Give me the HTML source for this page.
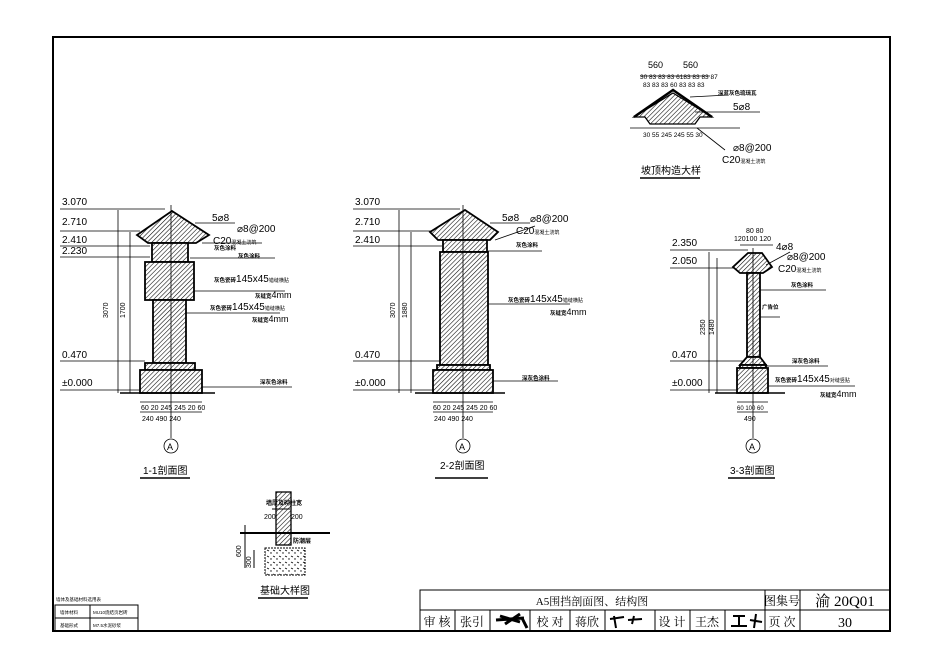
<!DOCTYPE html>
<html><head><meta charset="utf-8"><style>
html,body{margin:0;padding:0;background:#fff}
svg{display:block}
text{font-family:"Liberation Sans","Noto Sans CJK SC",sans-serif;fill:#000}
.s{font-family:"Liberation Serif","Noto Serif CJK SC",serif}
</style></head><body>
<svg width="945" height="665" viewBox="0 0 945 665" xmlns="http://www.w3.org/2000/svg">
<defs>
<pattern id="h" width="3.2" height="3.2" patternUnits="userSpaceOnUse" patternTransform="rotate(45)">
<rect width="3.2" height="3.2" fill="#fff"/><line x1="0" y1="0" x2="0" y2="3.2" stroke="#000" stroke-width="1.1"/></pattern>
<pattern id="d" width="6" height="6" patternUnits="userSpaceOnUse">
<rect width="6" height="6" fill="#fff"/><circle cx="1" cy="1" r="0.7" fill="#000"/><path d="M3 4 l2 1" stroke="#000" stroke-width="0.7"/></pattern>
</defs>
<rect width="945" height="665" fill="#fff"/>
<rect x="53" y="37" width="837" height="594" fill="none" stroke="#000" stroke-width="2"/>
<g stroke="#000" fill="none" stroke-width="1">
<rect x="420" y="590" width="470" height="41"/>
<line x1="420" y1="610" x2="890" y2="610"/>
<line x1="765" y1="590" x2="765" y2="631"/><line x1="800" y1="590" x2="800" y2="631"/>
<line x1="455" y1="610" x2="455" y2="631"/><line x1="490" y1="610" x2="490" y2="631"/><line x1="530" y1="610" x2="530" y2="631"/>
<line x1="570" y1="610" x2="570" y2="631"/><line x1="605" y1="610" x2="605" y2="631"/><line x1="655" y1="610" x2="655" y2="631"/>
<line x1="690" y1="610" x2="690" y2="631"/><line x1="725" y1="610" x2="725" y2="631"/>
</g>
<g class="s" font-size="12">
<text x="592" y="605" text-anchor="middle" class="s" font-size="11">A5围挡剖面图、结构图</text>
<text x="782" y="605" text-anchor="middle" class="s">图集号</text>
<text x="845" y="606" text-anchor="middle" class="s" font-size="15">渝 20Q01</text>
<text x="437" y="626" text-anchor="middle" class="s">审 核</text>
<text x="472" y="626" text-anchor="middle" class="s">张引</text>
<text x="550" y="626" text-anchor="middle" class="s">校 对</text>
<text x="587" y="626" text-anchor="middle" class="s">蒋欣</text>
<text x="672" y="626" text-anchor="middle" class="s">设 计</text>
<text x="707" y="626" text-anchor="middle" class="s">王杰</text>
<text x="782" y="626" text-anchor="middle" class="s">页 次</text>
<text x="845" y="627" text-anchor="middle" class="s" font-size="14">30</text>
</g>
<path d="M496 620 L524 618 M500 616 L520 622 M505 624 L520 614 M522 618 L527 628" stroke="#000" stroke-width="3" fill="none"/>
<path d="M614 616 L616 628 M610 619 L624 617 M628 620 L642 619 M634 616 L632 624" stroke="#000" stroke-width="2" fill="none"/>
<path d="M733 616 L745 616 M739 616 L739 626 M731 626 L747 626 M750 620 L762 622 M756 614 L754 628" stroke="#000" stroke-width="2" fill="none"/>
<g stroke="#000" fill="none" stroke-width="1"><rect x="55" y="605" width="83" height="26"/><line x1="55" y1="618" x2="138" y2="618"/><line x1="90" y1="605" x2="90" y2="631"/></g>
<g font-size="4.5"><text x="56" y="601">墙体及基础材料选用表</text><text x="60" y="614">墙体材料</text><text x="93" y="614">MU10烧结页岩砖</text><text x="60" y="627">基础形式</text><text x="93" y="627">M7.5水泥砂浆</text></g>

<!-- SECTION 1-1 -->
<g stroke="#000" stroke-width="1.8" fill="url(#h)">
<path d="M172 211 L209 235 L196 243 L148 243 L137 235 Z"/>
<rect x="152" y="243" width="36" height="19"/>
<rect x="145" y="262" width="49" height="38"/>
<rect x="153" y="300" width="33" height="63"/>
<rect x="145" y="363" width="50" height="7"/>
<rect x="140" y="370" width="62" height="23"/>
</g>
<g stroke="#000" stroke-width="0.8" fill="none">
<line x1="120" y1="393" x2="215" y2="393" stroke-width="1.5"/>
<line x1="171" y1="205" x2="171" y2="438"/>
<line x1="118" y1="210" x2="118" y2="393"/><line x1="130" y1="232" x2="130" y2="393"/>
<line x1="140" y1="402" x2="202" y2="402"/><line x1="140" y1="412" x2="202" y2="412"/>
<line x1="195" y1="223" x2="235" y2="223"/><line x1="202" y1="243" x2="262" y2="243"/><line x1="190" y1="258" x2="275" y2="258"/>
<line x1="194" y1="291" x2="285" y2="291"/><line x1="186" y1="313" x2="280" y2="313"/><line x1="202" y1="387" x2="292" y2="387"/>
<circle cx="171" cy="446" r="7"/>
<line x1="140" y1="478" x2="190" y2="478" stroke-width="1.5"/>
</g>
<g font-size="9">
<text x="212" y="221" font-size="10">5⌀8</text>
<text x="237" y="232" font-size="10">⌀8@200</text>
<text x="213" y="244" font-size="10">C20<tspan font-size="5">混凝土浇筑</tspan></text>
<text x="214" y="250" font-size="5.5" font-weight="bold">灰色涂料</text>
<text x="238" y="258" font-size="5.5" font-weight="bold">灰色涂料</text>
<text x="214" y="282" font-size="10"><tspan font-size="5.5" font-weight="bold">灰色瓷砖</tspan>145x45<tspan font-size="5">错缝横贴</tspan></text>
<text x="255" y="298"><tspan font-size="5.5" font-weight="bold">灰缝宽</tspan>4mm</text>
<text x="210" y="310" font-size="10"><tspan font-size="5.5" font-weight="bold">灰色瓷砖</tspan>145x45<tspan font-size="5">错缝横贴</tspan></text>
<text x="252" y="322"><tspan font-size="5.5" font-weight="bold">灰缝宽</tspan>4mm</text>
<text x="260" y="384" font-size="5.5" font-weight="bold">深灰色涂料</text>
<text x="141" y="410" font-size="7">60 20 245 245 20 60</text>
<text x="142" y="421" font-size="7">240   490   240</text>
<text x="167" y="450" font-size="9">A</text>
<text x="143" y="474" font-size="10">1-1剖面图</text>
<text x="108" y="318" font-size="7" transform="rotate(-90 108 318)">3070</text>
<text x="125" y="318" font-size="7" transform="rotate(-90 125 318)">1700</text>
</g>

<!-- SECTION 2-2 -->
<g stroke="#000" stroke-width="1.8" fill="url(#h)">
<path d="M465 210 L498 232 L490 240 L438 240 L430 232 Z"/>
<rect x="443" y="240" width="44" height="12"/>
<rect x="440" y="252" width="48" height="113"/>
<rect x="437" y="365" width="53" height="5"/>
<rect x="433" y="370" width="60" height="23"/>
</g>
<g stroke="#000" stroke-width="0.8" fill="none">
<line x1="415" y1="393" x2="505" y2="393" stroke-width="1.5"/>
<line x1="463" y1="205" x2="463" y2="438"/>
<line x1="399" y1="210" x2="399" y2="393"/><line x1="411" y1="232" x2="411" y2="393"/>
<line x1="433" y1="402" x2="493" y2="402"/><line x1="433" y1="412" x2="493" y2="412"/>
<line x1="490" y1="223" x2="530" y2="223"/><line x1="495" y1="240" x2="535" y2="226"/><line x1="488" y1="251" x2="542" y2="251"/>
<line x1="488" y1="304" x2="570" y2="304"/><line x1="493" y1="381" x2="558" y2="381"/>
<circle cx="463" cy="446" r="7"/>
<line x1="435" y1="478" x2="488" y2="478" stroke-width="1.5"/>
</g>
<g font-size="9">
<text x="502" y="221" font-size="10">5⌀8</text>
<text x="530" y="222" font-size="10">⌀8@200</text>
<text x="516" y="234" font-size="10">C20<tspan font-size="5">混凝土浇筑</tspan></text>
<text x="516" y="247" font-size="5.5" font-weight="bold">灰色涂料</text>
<text x="508" y="302" font-size="10"><tspan font-size="5.5" font-weight="bold">灰色瓷砖</tspan>145x45<tspan font-size="5">错缝横贴</tspan></text>
<text x="550" y="315"><tspan font-size="5.5" font-weight="bold">灰缝宽</tspan>4mm</text>
<text x="522" y="380" font-size="5.5" font-weight="bold">深灰色涂料</text>
<text x="433" y="410" font-size="7">60 20 245 245 20 60</text>
<text x="434" y="421" font-size="7">240   490   240</text>
<text x="459" y="450" font-size="9">A</text>
<text x="440" y="469" font-size="10">2-2剖面图</text>
<text x="395" y="318" font-size="7" transform="rotate(-90 395 318)">3070</text>
<text x="407" y="318" font-size="7" transform="rotate(-90 407 318)">1880</text>
</g>

<!-- SECTION 3-3 -->
<g stroke="#000" stroke-width="1.8" fill="url(#h)">
<path d="M748 253 L762 253 L772 267 L763 273 L740 273 L733 267 Z"/>
<rect x="747" y="273" width="13" height="84"/>
<path d="M747 357 L760 357 L766 365 L740 365 Z"/>
<rect x="740" y="365" width="26" height="3"/>
<rect x="737" y="368" width="31" height="25"/>
</g>
<g stroke="#000" stroke-width="0.8" fill="none">
<line x1="715" y1="393" x2="785" y2="393" stroke-width="1.5"/>
<line x1="753" y1="248" x2="753" y2="438"/>
<line x1="709" y1="252" x2="709" y2="393"/><line x1="717" y1="258" x2="717" y2="393"/>
<line x1="737" y1="402" x2="768" y2="402"/><line x1="737" y1="412" x2="768" y2="412"/>
<line x1="740" y1="245" x2="773" y2="245"/>
<line x1="766" y1="265" x2="790" y2="252"/><line x1="760" y1="290" x2="826" y2="290"/><line x1="760" y1="317" x2="780" y2="317"/>
<line x1="766" y1="366" x2="828" y2="366"/><line x1="768" y1="386" x2="855" y2="386"/>
<circle cx="753" cy="446" r="7"/>
<line x1="728" y1="478" x2="775" y2="478" stroke-width="1.5"/>
</g>
<g font-size="9">
<text x="746" y="233" font-size="7">80  80</text>
<text x="734" y="241" font-size="7">120100 120</text>
<text x="776" y="250" font-size="10">4⌀8</text>
<text x="787" y="260" font-size="10">⌀8@200</text>
<text x="778" y="272" font-size="10">C20<tspan font-size="5">混凝土浇筑</tspan></text>
<text x="791" y="287" font-size="5.5" font-weight="bold">灰色涂料</text>
<text x="762" y="309" font-size="5.5" font-weight="bold">广告位</text>
<text x="792" y="363" font-size="5.5" font-weight="bold">深灰色涂料</text>
<text x="775" y="382" font-size="10"><tspan font-size="5.5" font-weight="bold">灰色瓷砖</tspan>145x45<tspan font-size="5">对缝竖贴</tspan></text>
<text x="820" y="397"><tspan font-size="5.5" font-weight="bold">灰缝宽</tspan>4mm</text>
<text x="737" y="410" font-size="6">60 100 60</text>
<text x="744" y="421" font-size="7">490</text>
<text x="749" y="450" font-size="9">A</text>
<text x="730" y="474" font-size="10">3-3剖面图</text>
<text x="705" y="335" font-size="7" transform="rotate(-90 705 335)">2350</text>
<text x="714" y="335" font-size="7" transform="rotate(-90 714 335)">1480</text>
</g>

<g font-size="10">
<text x="62" y="205">3.070</text><text x="62" y="225">2.710</text><text x="62" y="243">2.410</text><text x="62" y="254">2.230</text><text x="62" y="358">0.470</text><text x="62" y="386">±0.000</text>
<text x="355" y="205">3.070</text><text x="355" y="225">2.710</text><text x="355" y="243">2.410</text><text x="355" y="358">0.470</text><text x="355" y="386">±0.000</text>
<text x="672" y="246">2.350</text><text x="672" y="264">2.050</text><text x="672" y="358">0.470</text><text x="672" y="386">±0.000</text>
</g>
<g stroke="#000" stroke-width="0.8" fill="none">
<path d="M60 209 H165 M60 231 H140 M60 246 H150 M60 257 H150 M60 361 H145 M60 390 H140"/>
<path d="M353 209 H460 M353 231 H432 M353 246 H442 M353 361 H440 M353 390 H433"/>
<path d="M670 250 H748 M670 268 H735 M670 361 H745 M670 390 H737"/>
</g>

<!-- top detail -->
<g stroke="#000" stroke-width="1.3" fill="url(#h)">
<path d="M673 93 L712 117 L700 117 L695 124 L650 124 L645 117 L634 117 Z"/>
</g>
<g stroke="#000" stroke-width="0.8" fill="none">
<path d="M634 117 L673 90 L712 117" stroke-width="2.5"/>
<line x1="630" y1="128" x2="740" y2="128"/><line x1="640" y1="76" x2="710" y2="76"/>
<line x1="690" y1="97" x2="728" y2="95"/><line x1="695" y1="112" x2="760" y2="112"/>
<line x1="697" y1="128" x2="725" y2="150"/>
<line x1="640" y1="178" x2="700" y2="178" stroke-width="1.5"/>
</g>
<g font-size="9">
<text x="648" y="68">560</text><text x="683" y="68">560</text>
<text x="640" y="79" font-size="6.5">30 83 83 83 6183 83 83 87</text>
<text x="643" y="87" font-size="6.5">83 83 83 60 83 83 83</text>
<text x="718" y="95" font-size="5.5" font-weight="bold">深蓝灰色琉璃瓦</text>
<text x="733" y="110" font-size="10">5⌀8</text>
<text x="643" y="137" font-size="6.5">30 55 245 245 55 30</text>
<text x="733" y="151" font-size="10">⌀8@200</text>
<text x="722" y="163" font-size="10">C20<tspan font-size="5">混凝土浇筑</tspan></text>
<text x="641" y="174" font-size="10">坡顶构造大样</text>
</g>

<!-- foundation -->
<g stroke="#000" stroke-width="1.3" fill="url(#h)">
<rect x="276" y="492" width="15" height="53"/>
</g>
<rect x="265" y="548" width="40" height="27" fill="url(#d)" stroke="#000" stroke-width="1" stroke-dasharray="2 1"/>
<g stroke="#000" stroke-width="1" fill="none">
<line x1="240" y1="533" x2="330" y2="533" stroke-width="2"/>
<line x1="245" y1="525" x2="245" y2="568"/><line x1="254" y1="550" x2="254" y2="568"/>
<line x1="272" y1="509" x2="290" y2="509"/>
<line x1="258" y1="598" x2="308" y2="598" stroke-width="1.5"/>
</g>
<g font-size="6">
<text x="266" y="505" font-weight="bold">墙厚及砌柱宽</text>
<text x="264" y="519" font-size="7">200</text><text x="291" y="519" font-size="7">200</text>
<text x="293" y="543" font-weight="bold">防潮层</text>
<text x="241" y="557" font-size="7" transform="rotate(-90 241 557)">600</text>
<text x="251" y="568" font-size="7" transform="rotate(-90 251 568)">300</text>
<text x="260" y="594" font-size="10">基础大样图</text>
</g>
</svg>
</body></html>
